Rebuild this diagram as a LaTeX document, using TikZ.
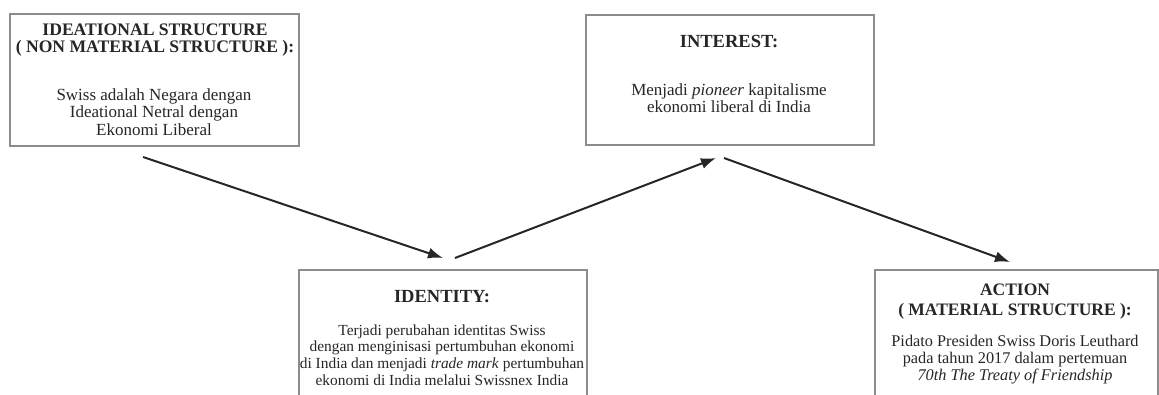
\documentclass[tikz,border=0pt]{standalone}
\usepackage{fontspec}
\setmainfont{Liberation Serif}
\usetikzlibrary{positioning}
\usetikzlibrary{arrows.meta}

\begin{document}
\begin{tikzpicture}[x=1pt, y=-1pt,
    panel/.style={rectangle, draw=black!45, line width=1.5pt, fill=white, anchor=north west, inner sep=0pt},
    head/.style={align=center, font=\fontsize{17.6}{17}\selectfont\bfseries, text=black!85},
    body/.style={align=center, font=\fontsize{17}{17.5}\selectfont, text=black!85},
    flow/.style={-{Latex[length=15pt, width=11pt]}, line width=2pt, draw=black!85}]
        \useasboundingbox (0,0) rectangle (1159,394);

        % boxes
        \node[panel, minimum width=289, minimum height=132] (ideational) at (9,13) {};
        \node[panel, minimum width=288, minimum height=150] (identity) at (298,269) {};
        \node[panel, minimum width=288, minimum height=130] (interest) at (585,14) {};
        \node[panel, minimum width=283, minimum height=150] (action) at (874,269) {};

        % texts
        \node[head] (ideationalhead) at (155,40.5) {IDEATIONAL STRUCTURE\\( NON MATERIAL STRUCTURE ):};
        \node[body] (ideationalbody) at (154,112) {Swiss adalah Negara dengan\\Ideational Netral dengan\\Ekonomi Liberal};

        \node[head, font=\fontsize{18.5}{18.5}\selectfont\bfseries] (interesthead) at (729,42) {INTEREST:};
        \node[body] (interestbody) at (729,98) {Menjadi \textit{pioneer} kapitalisme\\ekonomi liberal di India};

        \node[head, font=\fontsize{18.5}{18.5}\selectfont\bfseries] (identityhead) at (442,297) {IDENTITY:};
        \node[body, font=\fontsize{15.4}{16.7}\selectfont] (identitybody) at (442,355) {Terjadi perubahan identitas Swiss\\dengan menginisasi pertumbuhan ekonomi\\di India dan menjadi \textit{trade mark} pertumbuhan\\ekonomi di India melalui Swissnex India};

        \node[head, font=\fontsize{17.5}{20}\selectfont\bfseries] (actionhead) at (1015,302) {ACTION\\( MATERIAL STRUCTURE ):};
        \node[body, font=\fontsize{16.3}{17}\selectfont] (actionbody) at (1015,360) {Pidato Presiden Swiss Doris Leuthard\\pada tahun 2017 dalam pertemuan\\\textit{70th The Treaty of Friendship}};

        % arrows
        \coordinate (A1) at (143,157);
        \coordinate (A2) at (443,258);
        \coordinate (B1) at (455,258);
        \coordinate (B2) at (716,158);
        \coordinate (C1) at (724,158);
        \coordinate (C2) at (1010,262);

        \draw[flow] (A1) -- (A2);
        \draw[flow] (B1) -- (B2);
        \draw[flow] (C1) -- (C2);
    \end{tikzpicture}
\end{document}
